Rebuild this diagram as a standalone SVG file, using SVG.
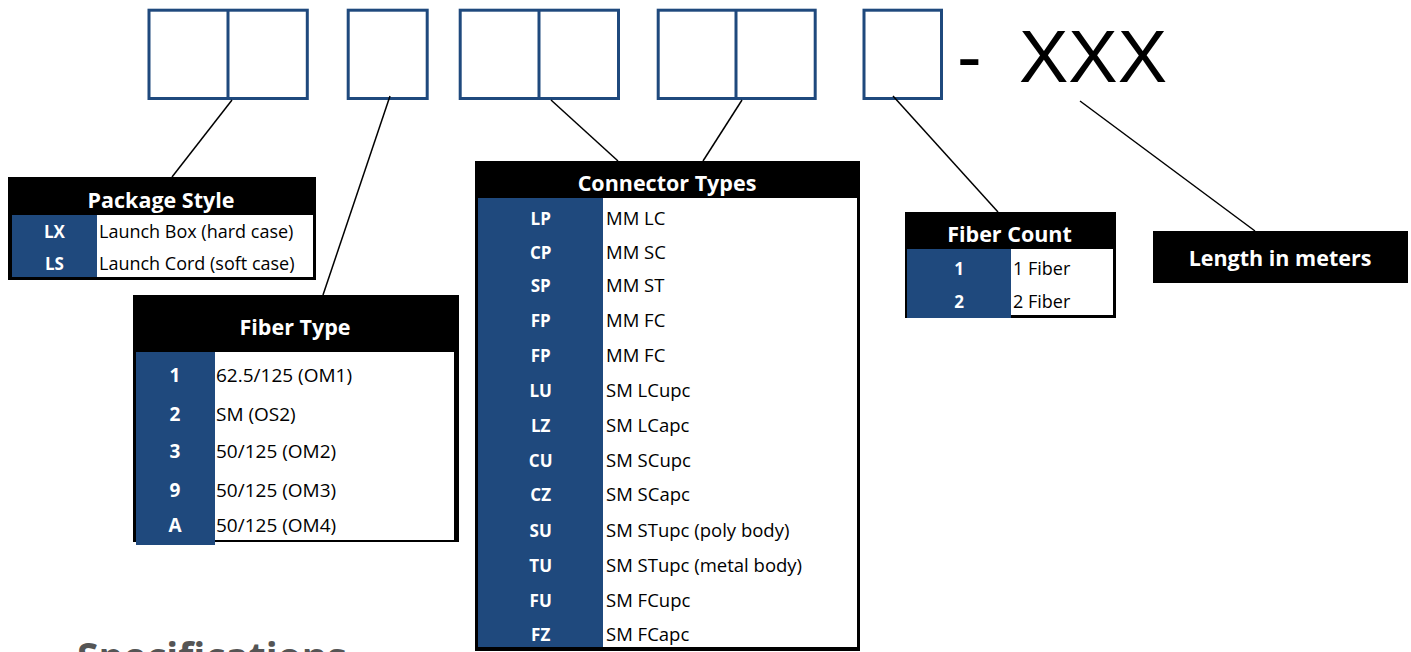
<svg xmlns="http://www.w3.org/2000/svg" width="1411" height="652" viewBox="0 0 1411 652">
<style>
.box{fill:none;stroke:#1F497D;stroke-width:3}
.div{stroke:#1F497D;stroke-width:3}
.blk{fill:#000}
.wht{fill:#fff}
.blu{fill:#1F497D}
.ttl{font-family:"Open Sans",Lato,sans-serif;font-weight:bold;font-size:21.5px;fill:#fff;text-anchor:middle}
.code{font-family:"Open Sans",Lato,sans-serif;font-weight:bold;font-size:17px;fill:#fff;text-anchor:middle}
.txt{font-family:"Open Sans",Lato,sans-serif;font-size:18px;fill:#000}
.big{font-size:19px}
.mid{font-size:18.5px}
.con{stroke:#000;stroke-width:1.5;fill:none}
</style>
<rect width="1411" height="652" fill="#fff"/>
<g id="code-boxes">
  <g id="box-package">
    <rect class="box" x="149" y="10.2" width="158.3" height="88.3"/>
    <line class="div" x1="228" y1="10.2" x2="228" y2="98.5"/>
  </g>
  <g id="box-fiber-type">
    <rect class="box" x="348.2" y="10.2" width="79" height="88.3"/>
  </g>
  <g id="box-connector-a">
    <rect class="box" x="460.2" y="10.2" width="158.3" height="88.3"/>
    <line class="div" x1="539" y1="10.2" x2="539" y2="98.5"/>
  </g>
  <g id="box-connector-b">
    <rect class="box" x="658.2" y="10.2" width="157" height="88.3"/>
    <line class="div" x1="736" y1="10.2" x2="736" y2="98.5"/>
  </g>
  <g id="box-fiber-count">
    <rect class="box" x="864" y="10.2" width="77.5" height="88.3"/>
  </g>
  <g id="length-code">
    <text font-family="'Liberation Sans',Arial,sans-serif" font-size="74" fill="#000" x="957" y="82">-<tspan x="1019">XXX</tspan></text>
  </g>
</g>
<g id="connectors">
  <line class="con" x1="232" y1="100" x2="172" y2="177"/>
  <line class="con" x1="390" y1="96" x2="323" y2="295"/>
  <line class="con" x1="551" y1="100" x2="618" y2="161"/>
  <line class="con" x1="742" y1="100" x2="703" y2="161"/>
  <line class="con" x1="893" y1="96" x2="998" y2="212"/>
  <line class="con" x1="1080" y1="101" x2="1255" y2="231"/>
</g>
<g id="package-style">
  <rect class="blk" x="8" y="177" width="308" height="103"/>
  <rect class="wht" x="12" y="215" width="301" height="62"/>
  <rect class="blu" x="12" y="215" width="85" height="62"/>
  <text class="ttl" x="161" y="208">Package Style</text>
  <text class="code" x="54.5" y="238.3">LX</text>
  <text class="txt" x="99" y="238.3">Launch Box (hard case)</text>
  <text class="code" x="54.5" y="270">LS</text>
  <text class="txt" x="99" y="270">Launch Cord (soft case)</text>
</g>
<g id="fiber-type">
  <rect class="blk" x="133" y="295" width="326" height="247"/>
  <rect class="wht" x="136" y="352" width="318" height="188"/>
  <rect class="blu" x="136" y="352" width="79" height="193"/>
  <text class="ttl" x="295" y="335">Fiber Type</text>
  <text class="code big" x="175" y="381.7">1</text>
  <text class="txt big" x="216" y="381.7">62.5/125 (OM1)</text>
  <text class="code big" x="175" y="420.7">2</text>
  <text class="txt big" x="216" y="420.7">SM (OS2)</text>
  <text class="code big" x="175" y="458">3</text>
  <text class="txt big" x="216" y="458">50/125 (OM2)</text>
  <text class="code big" x="175" y="496.7">9</text>
  <text class="txt big" x="216" y="496.7">50/125 (OM3)</text>
  <text class="code big" x="175" y="532">A</text>
  <text class="txt big" x="216" y="532">50/125 (OM4)</text>
</g>
<g id="connector-types">
  <rect class="blk" x="475" y="161" width="385" height="490"/>
  <rect class="wht" x="478" y="198" width="379" height="449"/>
  <rect class="blu" x="478" y="198" width="125" height="449"/>
  <text class="ttl" x="667" y="191">Connector Types</text>
  <text class="code" x="540.7" y="225">LP</text><text class="txt mid" x="606" y="225">MM LC</text>
  <text class="code" x="540.7" y="258.6">CP</text><text class="txt mid" x="606" y="258.6">MM SC</text>
  <text class="code" x="540.7" y="292.4">SP</text><text class="txt mid" x="606" y="292.4">MM ST</text>
  <text class="code" x="540.7" y="326.7">FP</text><text class="txt mid" x="606" y="326.7">MM FC</text>
  <text class="code" x="540.7" y="362.3">FP</text><text class="txt mid" x="606" y="362.3">MM FC</text>
  <text class="code" x="540.7" y="396.7">LU</text><text class="txt mid" x="606" y="396.7">SM LCupc</text>
  <text class="code" x="540.7" y="432.3">LZ</text><text class="txt mid" x="606" y="432.3">SM LCapc</text>
  <text class="code" x="540.7" y="466.7">CU</text><text class="txt mid" x="606" y="466.7">SM SCupc</text>
  <text class="code" x="540.7" y="500.7">CZ</text><text class="txt mid" x="606" y="500.7">SM SCapc</text>
  <text class="code" x="540.7" y="536.7">SU</text><text class="txt mid" x="606" y="536.7">SM STupc (poly body)</text>
  <text class="code" x="540.7" y="571.7">TU</text><text class="txt mid" x="606" y="571.7">SM STupc (metal body)</text>
  <text class="code" x="540.7" y="606.7">FU</text><text class="txt mid" x="606" y="606.7">SM FCupc</text>
  <text class="code" x="540.7" y="640.7">FZ</text><text class="txt mid" x="606" y="640.7">SM FCapc</text>
</g>
<g id="fiber-count">
  <rect class="blk" x="905" y="212" width="211" height="106"/>
  <rect class="wht" x="908" y="249" width="205" height="66"/>
  <rect class="blu" x="907" y="249" width="104" height="69"/>
  <text class="ttl" x="1009.5" y="241.7">Fiber Count</text>
  <text class="code" x="959" y="275">1</text><text class="txt" x="1013" y="275">1 Fiber</text>
  <text class="code" x="959" y="308.3">2</text><text class="txt" x="1013" y="308.3">2 Fiber</text>
</g>
<g id="length">
  <rect class="blk" x="1153" y="231" width="255" height="52"/>
  <text class="ttl" x="1280" y="266">Length in meters</text>
</g>
<text x="77" y="671" font-family="'Open Sans',Lato,sans-serif" font-weight="bold" font-size="39" fill="#555">Specifications</text>
</svg>
